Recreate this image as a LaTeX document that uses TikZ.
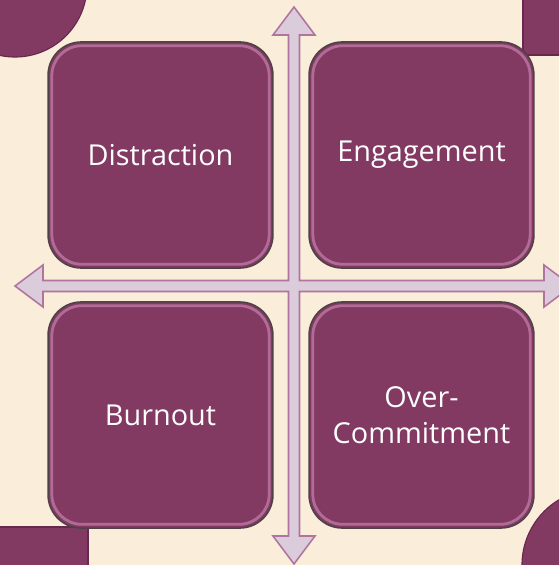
\documentclass[tikz,border=0pt]{standalone}
\usepackage{fontspec}
\setmainfont{Open Sans}
\definecolor{qcream}{RGB}{250,237,217}
\definecolor{qplum}{RGB}{131,58,98}
\definecolor{qplumdark}{RGB}{104,40,78}
\definecolor{qedge}{RGB}{78,66,70}
\definecolor{qglint}{RGB}{214,150,196}
\definecolor{qlilac}{RGB}{218,204,218}
\definecolor{qmauve}{RGB}{176,116,158}
\usetikzlibrary{positioning}

\tikzset{
  quadbox/.style={draw=qedge,fill=qplum,line width=1.1pt,rounded corners=0.83cm,
        minimum width=5.62cm,minimum height=5.65cm,text=white,align=center,
        font=\fontsize{20.5}{25.5}\selectfont},
  glint/.style={draw=qglint,line width=2pt,opacity=0.55,rounded corners=0.75cm},
  deco/.style={fill=qplum,draw=qplumdark,line width=0.8pt}
}

\begin{document}
\begin{tikzpicture}[x=0.025cm,y=-0.025cm]
  % canvas
  \fill[qcream] (0,0) rectangle (559,565);
  \useasboundingbox (0,0) rectangle (559,565);
  \clip (0,0) rectangle (559,565);

  % corner pieces
  \draw[deco] (15,-15) circle[radius=1.8cm];
  \draw[deco] (523,-5) rectangle (570,55);
  \draw[deco] (-5,527) rectangle (88,575);
  \draw[deco] (598,565) circle[radius=1.9cm];

  % axes (one merged cross with four heads)
  \draw[fill=qlilac,draw=qmauve,line width=1.1pt,line join=miter]
    (294,7) -- (315,35) -- (299.5,35) -- (299.5,280.5) -- (544,280.5)
    -- (544,265) -- (572,286) -- (544,307) -- (544,291.5) -- (299.5,291.5)
    -- (299.5,536) -- (315,536) -- (294,564) -- (273,536) -- (288.5,536)
    -- (288.5,291.5) -- (43,291.5) -- (43,307) -- (15,286) -- (43,265)
    -- (43,280.5) -- (288.5,280.5) -- (288.5,35) -- (273,35) -- cycle;

  % quadrants
  \node[quadbox] (dist) at (160.5,155) {Distraction};
  \node[quadbox] (eng)  at (421.5,155) {Engagement};
  \node[quadbox] (burn) at (160.5,415) {Burnout};
  \node[quadbox] (over) at (421.5,415) {Over-\\Commitment};

  \foreach \q in {dist,eng,burn,over}
    \draw[glint] ([xshift=3.2pt,yshift=-3.2pt]\q.north west)
      rectangle ([xshift=-3.2pt,yshift=3.2pt]\q.south east);
\end{tikzpicture}
\end{document}
